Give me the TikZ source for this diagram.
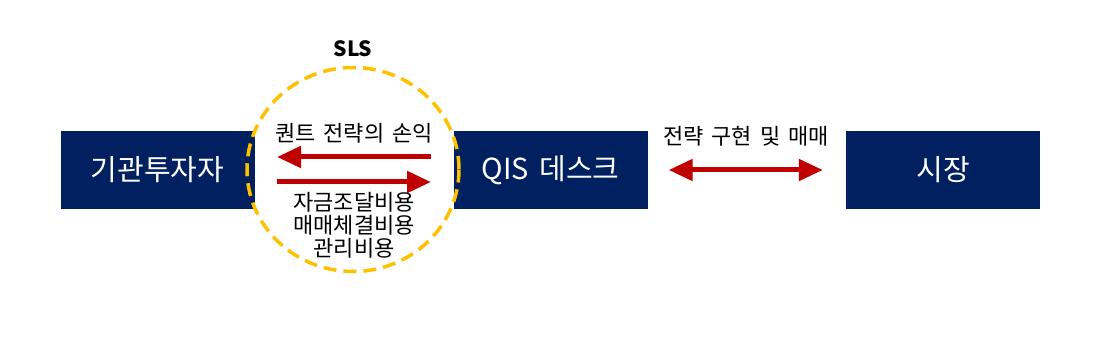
\documentclass[tikz,border=0pt]{standalone}
\usepackage{fontspec}
\setmainfont{Noto Sans CJK KR}[WordSpace=1.6]
\usetikzlibrary{arrows.meta,calc}
\definecolor{navy}{HTML}{002060}
\definecolor{darkred}{HTML}{C00000}
\definecolor{gold}{HTML}{FFC000}
\tikzset{
  actor/.style={fill=navy, minimum width=194pt, minimum height=78pt, inner sep=0pt,
    text=white, font=\fontsize{29}{32}\selectfont},
  lbl/.style={font=\fontsize{22}{23}\selectfont, text=black, inner sep=0pt},
  flow/.style={darkred, line width=5pt, -{Triangle[length=24pt,width=21pt]}},
  dflow/.style={darkred, line width=5pt, {Triangle[length=24pt,width=21pt]}-{Triangle[length=24pt,width=21pt]}},
}
\begin{document}
\begin{tikzpicture}[x=1pt,y=-1pt]
\useasboundingbox (0,0) rectangle (1099,347);
\node[actor] (inv) at (157.5,170) {기관투자자};
\node[actor] (qis) at (550.5,170) {QIS 데스크};
\node[actor] (mkt) at (943,170) {시장};
\draw[gold, line width=3.5pt, dash pattern=on 13pt off 7pt] (353,169.5) ellipse [x radius=106, y radius=102];
\node[font=\bfseries\fontsize{21}{24}\selectfont, inner sep=0pt] (sls) at (353,49) {SLS};
\node[lbl] (pnl) at (354,133) {퀀트 전략의 손익};
\coordinate (la) at (431,157);
\coordinate (lb) at (277,157);
\coordinate (ra) at (277,182);
\coordinate (rb) at (431,182);
\draw[flow] (la) -- (lb);
\draw[flow] (ra) -- (rb);
\node[lbl, align=center] (cost) at (354,225) {자금조달비용\\매매체결비용\\관리비용};
\coordinate (da) at ($(qis.east)+(21,0)$);
\coordinate (db) at ($(mkt.west)+(-23,0)$);
\draw[dflow] (da) -- (db);
\node[lbl] (impl) at (746,136) {전략 구현 및 매매};
\end{tikzpicture}
\end{document}
